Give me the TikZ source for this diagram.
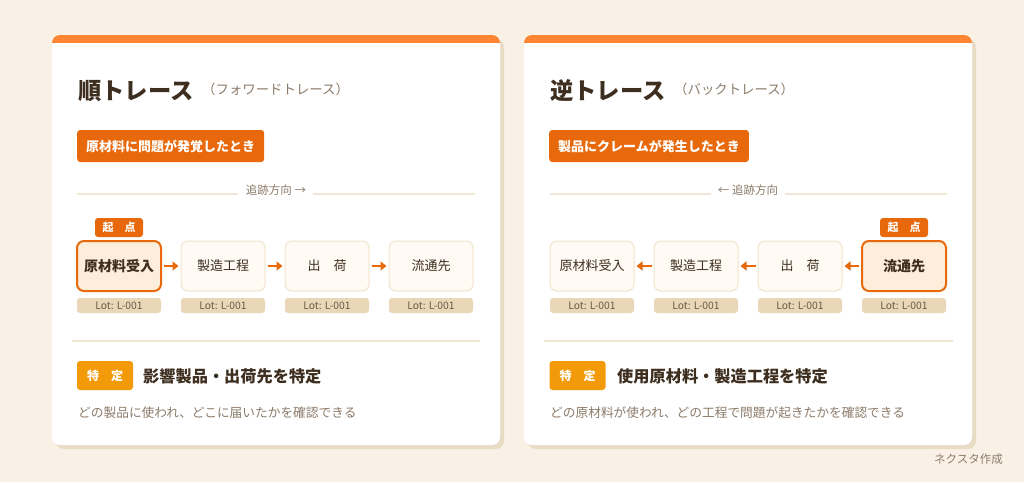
\documentclass[tikz,border=0pt]{standalone}
\usepackage{fontspec}
\setmainfont{Noto Sans CJK JP}
\usetikzlibrary{arrows.meta}
\definecolor{bg}{HTML}{FAF1E6}
\definecolor{shadowc}{HTML}{E8DCC4}
\definecolor{barc}{HTML}{FF8533}
\definecolor{tagor}{HTML}{E8690B}
\definecolor{yel}{HTML}{F39A0B}
\definecolor{boxfill}{HTML}{FFFAF3}
\definecolor{boxline}{HTML}{F2E3CD}
\definecolor{hifill}{HTML}{FDEEDC}
\definecolor{lotfill}{HTML}{E9D7B8}
\definecolor{lottext}{HTML}{6B5A48}
\definecolor{dark}{HTML}{3D2E1F}
\definecolor{grayt}{HTML}{8C7B6A}
\definecolor{linec}{HTML}{F0E6D6}
\newcommand{\fs}[1]{\fontsize{#1}{#1}\selectfont}
\begin{document}
\begin{tikzpicture}[x=1pt,y=-1pt,
  titletext/.style={anchor=west,font=\fs{23.3}\bfseries,text=dark,inner sep=0},
  subtext/.style={anchor=west,font=\fs{13.4},text=grayt,inner sep=0},
  tagbox/.style={anchor=west,fill=tagor,text=white,font=\fs{13}\bfseries,rounded corners=3,minimum height=32,inner xsep=9},
  divtext/.style={font=\fs{11.5},text=grayt,inner sep=0},
  divline/.style={draw=linec,line width=1.2},
  stepbox/.style={draw=boxline,fill=boxfill,line width=1,rounded corners=7,minimum width=84,minimum height=50,font=\fs{13},text=dark,inner sep=0},
  startbox/.style={stepbox,draw=tagor,fill=hifill,line width=2,font=\fs{14}\bfseries},
  lotbox/.style={fill=lotfill,rounded corners=3,minimum width=84,minimum height=15,font=\fs{10.3},text=lottext,inner sep=0},
  startbadge/.style={fill=tagor,text=white,rounded corners=3,minimum width=48,minimum height=19,font=\fs{11}\bfseries,inner sep=0},
  idbadge/.style={fill=yel,text=white,rounded corners=3,minimum width=56,minimum height=29,font=\fs{12}\bfseries,inner sep=0},
  headtext/.style={anchor=west,font=\fs{16.2}\bfseries,text=dark,inner sep=0},
  desctext/.style={anchor=west,font=\fs{12.7},text=grayt,inner sep=0},
  flow/.style={draw=tagor,line width=2.5,-{Triangle[length=6pt,width=9pt]}},
  card/.style={fill=white,rounded corners=8}
]
\useasboundingbox (0,0) rectangle (1024,482);
\fill[bg] (0,0) rectangle (1024,482);

% ---------- cards ----------
\foreach \x in {52,524}{
  \fill[shadowc,rounded corners=8] (\x+4,39) rectangle (\x+452,449);
  \fill[card] (\x,35) rectangle (\x+448,445);
  \begin{scope}
    \clip[rounded corners=8] (\x,35) rectangle (\x+448,445);
    \fill[barc] (\x,35) rectangle (\x+448,43);
  \end{scope}
}

% ---------- left card ----------
\node[titletext] (lt) at (78,91) {順トレース};
\node[subtext] (ls) at (202,89) {（フォワードトレース）};
\node[tagbox] (ltag) at (77,146) {原材料に問題が発覚したとき};
\node[divtext] (ldiv) at (276,190) {追跡方向 →};
\coordinate (ldl1) at (77,194); \coordinate (ldl2) at (238,194);
\coordinate (ldr1) at (313,194); \coordinate (ldr2) at (475,194);
\draw[divline] (ldl1) -- (ldl2);
\draw[divline] (ldr1) -- (ldr2);

\node[startbox] (l1) at (119,266) {原材料受入};
\node[stepbox] (l2) at (223,266) {製造工程};
\node[stepbox] (l3) at (327,266) {出　荷};
\node[stepbox] (l4) at (431,266) {流通先};
\node[startbadge] (lbadge) at (119,227.5) {起　点};
\foreach \i/\x in {1/119,2/223,3/327,4/431}{
  \node[lotbox] (llot\i) at (\x,305.5) {Lot: L-001};
}
\draw[flow] ([xshift=2pt]l1.east) -- ([xshift=-2pt]l2.west);
\draw[flow] ([xshift=2pt]l2.east) -- ([xshift=-2pt]l3.west);
\draw[flow] ([xshift=2pt]l3.east) -- ([xshift=-2pt]l4.west);

\coordinate (lsep1) at (72,341); \coordinate (lsep2) at (480,341);
\draw[divline] (lsep1) -- (lsep2);
\node[idbadge] (lid) at (105,375.5) {特　定};
\node[headtext] (lhead) at (143,376) {影響製品・出荷先を特定};
\node[desctext] (ldesc) at (78,413) {どの製品に使われ、どこに届いたかを確認できる};

% ---------- right card ----------
\node[titletext] (rt) at (550,91) {逆トレース};
\node[subtext] (rs) at (674,89) {（バックトレース）};
\node[tagbox] (rtag) at (549,146) {製品にクレームが発生したとき};
\node[divtext] (rdiv) at (748,190) {← 追跡方向};
\coordinate (rdl1) at (550,194); \coordinate (rdl2) at (711,194);
\coordinate (rdr1) at (785,194); \coordinate (rdr2) at (947,194);
\draw[divline] (rdl1) -- (rdl2);
\draw[divline] (rdr1) -- (rdr2);

\node[stepbox] (r1) at (592,266) {原材料受入};
\node[stepbox] (r2) at (696,266) {製造工程};
\node[stepbox] (r3) at (800,266) {出　荷};
\node[startbox] (r4) at (904,266) {流通先};
\node[startbadge] (rbadge) at (904,227.5) {起　点};
\foreach \i/\x in {1/592,2/696,3/800,4/904}{
  \node[lotbox] (rlot\i) at (\x,305.5) {Lot: L-001};
}
\draw[flow] ([xshift=-2pt]r2.west) -- ([xshift=2pt]r1.east);
\draw[flow] ([xshift=-2pt]r3.west) -- ([xshift=2pt]r2.east);
\draw[flow] ([xshift=-2pt]r4.west) -- ([xshift=2pt]r3.east);

\coordinate (rsep1) at (544,341); \coordinate (rsep2) at (953,341);
\draw[divline] (rsep1) -- (rsep2);
\node[idbadge] (rid) at (577.5,375.5) {特　定};
\node[headtext] (rhead) at (617,376) {使用原材料・製造工程を特定};
\node[desctext] (rdesc) at (550,413) {どの原材料が使われ、どの工程で問題が起きたかを確認できる};

\node[anchor=east,font=\fs{11.5},text=grayt,inner sep=0] (credit) at (1003,459) {ネクスタ作成};
\end{tikzpicture}
\end{document}
